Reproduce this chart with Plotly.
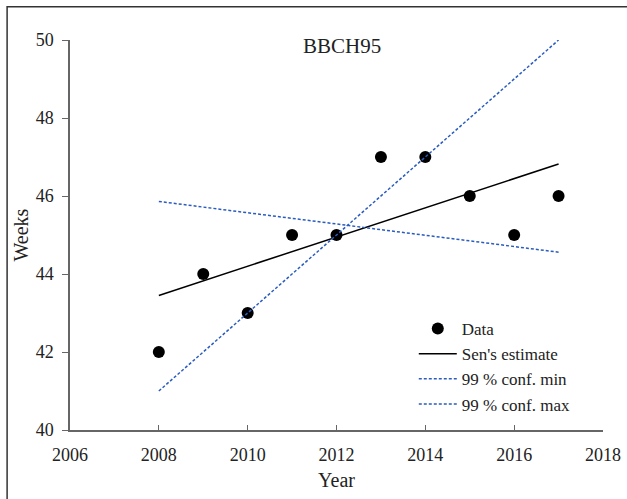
import plotly.graph_objects as go

# Observed onset week per year
years = [2008, 2009, 2010, 2011, 2012, 2013, 2014, 2015, 2016, 2017]
weeks = [42, 44, 43, 45, 45, 47, 47, 46, 45, 46]

# Trend lines evaluated at the first and last year
trend_years = [2008, 2017]
sen_estimate = [43.45, 46.82]
conf_min = [45.86, 44.56]
conf_max = [41.0, 50.0]

x_ticks = [2006, 2008, 2010, 2012, 2014, 2016, 2018]
y_ticks = [40, 42, 44, 46, 48, 50]

FONT = "Liberation Serif"
BLUE = "#2a5cbf"

fig = go.Figure()
fig.add_trace(go.Scatter(
    x=years, y=weeks, mode="markers", name="Data",
    marker=dict(color="black", size=12),
))
fig.add_trace(go.Scatter(
    x=trend_years, y=sen_estimate, mode="lines", name="Sen's estimate",
    line=dict(color="black", width=1.5),
))
fig.add_trace(go.Scatter(
    x=trend_years, y=conf_min, mode="lines", name="99 % conf. min",
    line=dict(color=BLUE, width=1.5, dash="3px,2px"),
))
fig.add_trace(go.Scatter(
    x=trend_years, y=conf_max, mode="lines", name="99 % conf. max",
    line=dict(color=BLUE, width=1.5, dash="3px,2px"),
))

fig.update_layout(
    width=627, height=499,
    margin=dict(l=70, r=24, t=40, b=69),
    paper_bgcolor="white", plot_bgcolor="white",
    font=dict(family=FONT, size=17, color="#222"),
    showlegend=True,
    legend=dict(
        x=0.645, y=0.305, xanchor="left", yanchor="top",
        bgcolor="rgba(0,0,0,0)", font=dict(size=17), tracegroupgap=0,
        itemwidth=38,
    ),
    xaxis=dict(
        range=[2006, 2018], tickvals=x_ticks, showgrid=False, zeroline=False,
        showline=True, linecolor="#666", linewidth=1.5, automargin=False,
        ticks="inside", ticklen=5, tickcolor="#666", ticklabelstandoff=8,
        tickfont=dict(size=18),
        title=dict(text="Year", standoff=9),
    ),
    yaxis=dict(
        range=[40, 50], tickvals=y_ticks, showgrid=False, zeroline=False,
        showline=True, linecolor="#666", linewidth=1.5, automargin=False,
        ticks="outside", ticklen=6, tickcolor="#666", ticklabelstandoff=5,
        tickfont=dict(size=18),
        title=dict(text="Weeks", standoff=2),
    ),
    annotations=[dict(
        text="BBCH95", x=0.51, y=1.02, xref="paper", yref="paper",
        xanchor="center", yanchor="top", showarrow=False,
        font=dict(size=21, family=FONT, color="#222"),
    )],
    shapes=[dict(
        type="rect", xref="paper", yref="paper",
        x0=-0.118, x1=1.1, y0=-0.3, y1=1.085,
        line=dict(color="#333", width=1.5), fillcolor="rgba(0,0,0,0)",
    )],
)

fig.write_html("out.html")
